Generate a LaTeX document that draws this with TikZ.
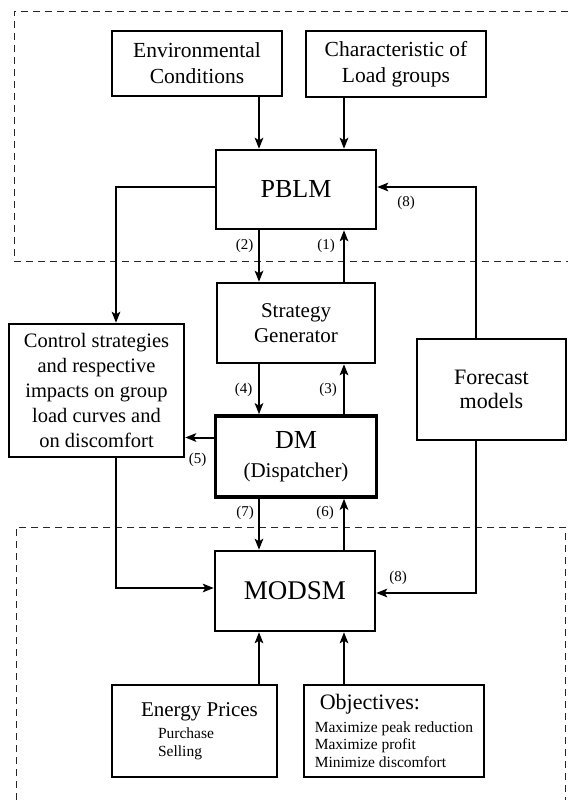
\documentclass[tikz,border=0pt]{standalone}
\usepackage{fontspec}
\setmainfont{Liberation Serif}
\usetikzlibrary{arrows.meta,calc}
\begin{document}
\begin{tikzpicture}[x=1pt,y=-1pt,
  box/.style={draw, line width=2.4pt, inner sep=0pt, align=center},
  arr/.style={line width=2pt, -{Stealth[length=11pt,width=8.5pt,inset=2.5pt]}},
  lbl/.style={inner sep=0pt, font=\fontsize{15}{15}\selectfont},
  region/.style={line width=0.8pt, black!85, dash pattern=on 7pt off 5pt},
]
\useasboundingbox (0,0) rectangle (568,800);

% dashed regions
\draw[region] (568,11) -- (14,11) -- (14,261) -- (568,261);
\draw[region] (16,800) -- (16,527) -- (565,527) -- (565,800);

% boxes
\node[box, minimum width=170pt, minimum height=65pt, font=\fontsize{21.5}{26}\selectfont] (env) at (197,63.5) {Environmental\\Conditions};
\node[box, minimum width=180pt, minimum height=66pt, font=\fontsize{21.5}{26}\selectfont] (chr) at (396,64) {Characteristic of\\Load groups};
\node[box, minimum width=160pt, minimum height=79pt, font=\fontsize{26}{26}\selectfont] (pblm) at (296,189.5) {PBLM};
\node[box, minimum width=158pt, minimum height=80pt, font=\fontsize{21}{25}\selectfont] (strat) at (296,323) {Strategy\\Generator};
\node[box, minimum width=175pt, minimum height=133pt, font=\fontsize{20.5}{25}\selectfont] (ctrl) at (96.5,390.5) {Control strategies\\and respective\\impacts on group\\load curves and\\on discomfort};
\node[box, minimum width=149pt, minimum height=101pt, font=\fontsize{22}{23.5}\selectfont] (fore) at (491.5,389.5) {Forecast\\models};
\node[box, line width=3.6pt, minimum width=161pt, minimum height=81pt, font=\fontsize{21}{29}\selectfont] (dm) at (296,456.5) {{\fontsize{26}{26}\selectfont DM}\\(Dispatcher)};
\node[box, minimum width=160pt, minimum height=80pt, font=\fontsize{27}{27}\selectfont] (modsm) at (295,591) {MODSM};
\node[box, minimum width=165pt, minimum height=92pt, align=left, font=\fontsize{15.5}{18}\selectfont] (energy) at (194.5,731) {\hspace*{10pt}{\fontsize{21}{21}\selectfont Energy Prices}\\[4pt]\hspace*{27pt}Purchase\\\hspace*{27pt}Selling};
\node[box, minimum width=180pt, minimum height=92pt, align=left, font=\fontsize{15.5}{17.5}\selectfont] (obj) at (394,731) {\hspace*{5pt}{\fontsize{22}{22}\selectfont Objectives:}\\[5pt]Maximize peak reduction\\Maximize profit\\Minimize discomfort};

% columns and rows
\coordinate (cL) at (259,0);
\coordinate (cR) at (344,0);
\coordinate (cC) at (116,0);
\coordinate (cF) at (476,0);
\coordinate (rT) at (0,187);
\coordinate (rD) at (0,437.5);
\coordinate (rML) at (0,588);
\coordinate (rMR) at (0,593);

% connectors
\draw[arr] (env.south -| cL) -- (pblm.north -| cL);
\draw[arr] (chr.south -| cR) -- (pblm.north -| cR);
\draw[arr] (pblm.south -| cL) -- (strat.north -| cL);
\draw[arr] (strat.north -| cR) -- (pblm.south -| cR);
\draw[arr] (strat.south -| cL) -- (dm.north -| cL);
\draw[arr] (dm.north -| cR) -- (strat.south -| cR);
\draw[arr] (dm.south -| cL) -- (modsm.north -| cL);
\draw[arr] (modsm.north -| cR) -- (dm.south -| cR);
\draw[arr] (energy.north -| cL) -- (modsm.south -| cL);
\draw[arr] (obj.north -| cR) -- (modsm.south -| cR);
\draw[arr] (pblm.west |- rT) -| (ctrl.north -| cC);
\draw[arr] (dm.west |- rD) -- (ctrl.east |- rD);
\draw[arr] (ctrl.south -| cC) |- (modsm.west |- rML);
\draw[arr] (fore.north -| cF) |- (pblm.east |- rT);
\draw[arr] (fore.south -| cF) |- (modsm.east |- rMR);

% labels
\node[lbl] (l1) at (326,246) {(1)};
\node[lbl] (l2) at (244.5,246) {(2)};
\node[lbl] (l3) at (328,390) {(3)};
\node[lbl] (l4) at (243.5,390) {(4)};
\node[lbl] (l5) at (197.5,460) {(5)};
\node[lbl] (l6) at (325,513) {(6)};
\node[lbl] (l7) at (245,513) {(7)};
\node[lbl] (l8a) at (406,203) {(8)};
\node[lbl] (l8b) at (398,578) {(8)};
\end{tikzpicture}
\end{document}
